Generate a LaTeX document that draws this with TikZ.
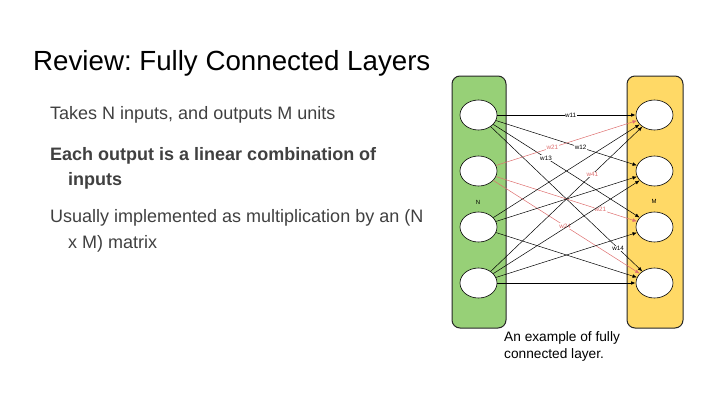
\documentclass[tikz,border=0pt]{standalone}
\usepackage{fontspec}
\setmainfont{Liberation Sans}
\usetikzlibrary{arrows.meta,shapes.geometric}
\definecolor{lred}{RGB}{222,110,110}
\definecolor{bodygray}{RGB}{64,64,64}
\definecolor{pgreen}{RGB}{151,208,119}
\definecolor{pyellow}{RGB}{255,217,102}
\frenchspacing
\begin{document}
\begin{tikzpicture}[x=1pt,y=-1pt,
  panel/.style={draw=black!85, line width=1pt, rounded corners=8pt},
  unit/.style={ellipse, draw=black, line width=0.6pt, fill=white, minimum width=37pt, minimum height=30pt, inner sep=0pt},
  edge/.style={line width=0.5pt, -{Latex[length=4.5pt,width=3.6pt]}},
  hedge/.style={edge, line width=0.9pt},
  redge/.style={edge, draw=lred},
  wl/.style={font=\fontsize{6.3}{7}\selectfont, fill=white, inner sep=0.5pt},
  rwl/.style={wl, text=lred},
  body/.style={anchor=base west, font=\fontsize{18}{18}\selectfont, text=bodygray, inner sep=0pt},
  small/.style={font=\fontsize{6}{6}\selectfont, inner sep=0pt},
]
\useasboundingbox (0,0) rectangle (720,405);

% title and text
\node[anchor=base west, inner sep=0pt, font=\fontsize{27.7}{30}\selectfont] (title) at (33,70) {Review: Fully Connected Layers};
\node[body] (t1) at (50,119) {Takes N inputs, and outputs M units};
\node[body, font=\fontsize{18}{18}\selectfont\bfseries] (t2) at (50,160) {Each output is a linear combination of};
\node[body, font=\fontsize{18}{18}\selectfont\bfseries] (t2b) at (68,185) {inputs};
\node[body] (t3) at (50,222) {Usually implemented as multiplication by an (N};
\node[body] (t3b) at (68,248) {x M) matrix};

% panels
\draw[panel, fill=pgreen] (452,76) rectangle (506,328);
\draw[panel, fill=pyellow] (627,76) rectangle (683,328);
\node[small] (nlab) at (478,202) {N};
\node[small] (mlab) at (654,201) {M};

% units
\foreach \k/\yy in {1/115,2/171,3/227,4/283}{
  \node[unit] (i\k) at (478.5,\yy) {};
  \node[unit] (o\k) at (654.5,\yy) {};
}

% edges
\draw[hedge] (i1) -- node[wl, pos=0.53] {w11} (o1);
\draw[edge] (i1) -- node[wl, pos=0.6] {w12} (o2);
\draw[edge] (i1) -- node[wl, pos=0.36] {w13} (o3);
\draw[edge] (i1) -- node[wl, pos=0.84] {w14} (o4);

\draw[redge] (i2) -- node[rwl, pos=0.4] {w21} (o1);
\draw[redge] (i2) -- node[rwl, pos=0.74] {w21} (o3);
\draw[redge] (i2) -- node[rwl, pos=0.49] {w24} (o4);

\draw[edge] (i3) -- (o1);
\draw[edge] (i3) -- (o2);
\draw[edge] (i3) -- (o4);

\draw[edge] (i4) -- node[rwl, pos=0.67] {w41} (o1);
\draw[edge] (i4) -- (o2);
\draw[edge] (i4) -- (o3);
\draw[hedge] (i4) -- (o4);

% caption
\node[anchor=base west, inner sep=0pt, font=\fontsize{13.7}{17}\selectfont] (cap1) at (504,341) {An example of fully};
\node[anchor=base west, inner sep=0pt, font=\fontsize{13.7}{17}\selectfont] (cap2) at (504,358) {connected layer.};
\end{tikzpicture}
\end{document}
